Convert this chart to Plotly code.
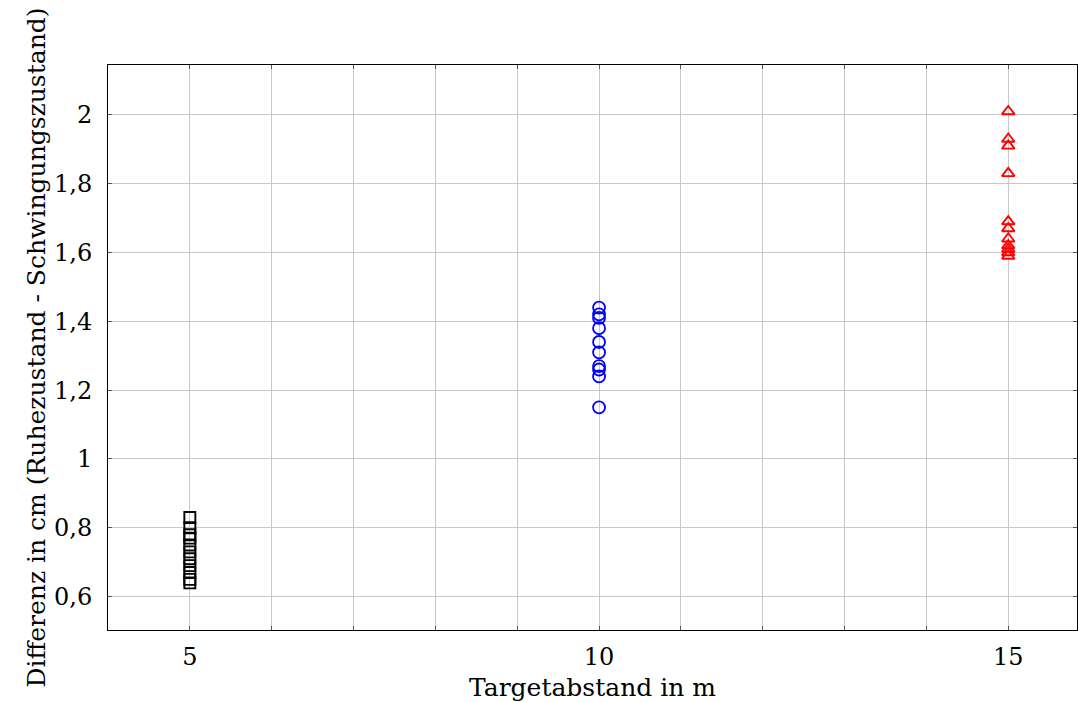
import plotly.graph_objects as go

# Data
dist_5 = [5] * 11
diff_5 = [0.83, 0.80, 0.78, 0.77, 0.75, 0.73, 0.71, 0.69, 0.67, 0.65, 0.64]
dist_10 = [10] * 10
diff_10 = [1.44, 1.42, 1.41, 1.38, 1.34, 1.31, 1.27, 1.26, 1.24, 1.15]
dist_15 = [15] * 11
diff_15 = [2.01, 1.93, 1.91, 1.83, 1.69, 1.67, 1.64, 1.62, 1.61, 1.60, 1.59]

x_tickvals = list(range(4, 16))
x_ticktext = ["", "5", "", "", "", "", "10", "", "", "", "", "15"]
y_tickvals = [0.6, 0.8, 1.0, 1.2, 1.4, 1.6, 1.8, 2.0]
y_ticktext = ["0,6", "0,8", "1", "1,2", "1,4", "1,6", "1,8", "2"]

FONT = "DejaVu Serif"

fig = go.Figure()
fig.add_trace(go.Scatter(
    x=dist_5, y=diff_5, mode="markers",
    marker=dict(symbol="square-open", size=11, color="black", line=dict(width=1.9, color="black")),
    showlegend=False))
fig.add_trace(go.Scatter(
    x=dist_10, y=diff_10, mode="markers",
    marker=dict(symbol="circle-open", size=12, color="blue", line=dict(width=1.8, color="blue")),
    showlegend=False))
fig.add_trace(go.Scatter(
    x=dist_15, y=diff_15, mode="markers",
    marker=dict(symbol="triangle-up-open", size=11, color="red", line=dict(width=1.9, color="red")),
    showlegend=False))

axis_common = dict(
    showline=True, linecolor="black", linewidth=1, mirror="ticks",
    ticks="inside", ticklen=4, tickcolor="#555555", tickwidth=1,
    showgrid=True, gridcolor="#c8c8c8", gridwidth=1, zeroline=False,
    tickfont=dict(family=FONT, size=24, color="black"),
)

fig.update_xaxes(
    range=[4, 15.84], tickmode="array", tickvals=x_tickvals, ticktext=x_ticktext,
    ticklabelstandoff=5,
    title=dict(text="Targetabstand in m", font=dict(family=FONT, size=25, color="black"), standoff=8),
    **axis_common)
fig.update_yaxes(
    range=[0.503, 2.145], tickmode="array", tickvals=y_tickvals, ticktext=y_ticktext,
    ticklabelstandoff=10,
    title=dict(text="Differenz in cm (Ruhezustand - Schwingungszustand)", font=dict(family=FONT, size=25, color="black"), standoff=1),
    **axis_common)

fig.update_layout(
    width=1078, height=702,
    margin=dict(l=108, r=1, t=65, b=72),
    plot_bgcolor="white", paper_bgcolor="white",
    font=dict(family=FONT, color="black"),
)

fig.write_html(
    "out.html",
    config={"displayModeBar": False},
    post_script="document.body.style.margin='0';document.body.style.overflow='hidden';",
)
